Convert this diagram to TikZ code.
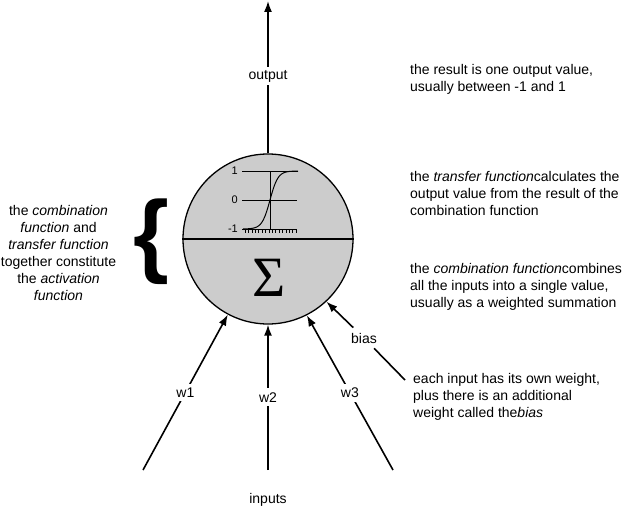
\documentclass[tikz,border=0pt]{standalone}
\usepackage{fontspec}
\setmainfont{Liberation Sans}
\newfontfamily\sigmafont{Liberation Serif}
\usetikzlibrary{arrows.meta,positioning}
\tikzstyle{neuron}=[draw,fill=black!20,circle,minimum size=170pt,inner sep=0pt,line width=1.3pt]
\tikzstyle{wire}=[line width=1.6pt,-{Latex[length=11pt,width=8pt]}]
\tikzstyle{tag}=[fill=white,inner sep=4pt]
\tikzstyle{note}=[align=left,anchor=north west,inner sep=0pt]
\tikzstyle{axis}=[line width=1pt]

\begin{document}
\begin{tikzpicture}[x=1pt,y=-1pt,font=\fontsize{14}{17}\selectfont]
\useasboundingbox (0,0) rectangle (626,508);
\node [neuron] (n) at (268,239) {};
\draw [line width=1.3pt] (n.west) -- (n.east);
\node [inner sep=0pt,font=\fontsize{57}{60}\sigmafont] (sum) at (269,278) {Σ};
\draw [axis] (242,171) -- (298,171) (242,200) -- (297,200) (242,229) -- (297,229) (270,171) -- (270,229);
\foreach \i in {0,...,15}
  \draw [line width=0.6pt] (245+3.4*\i,229) -- ++(0,3.5);
\draw [axis,domain=-27:28,samples=50] plot (270+\x,{200-29*tanh(\x/8)});
\node [anchor=east,inner sep=0pt,font=\fontsize{11}{11}\selectfont] (one) at (238,171) {1};
\node [anchor=east,inner sep=0pt,font=\fontsize{11}{11}\selectfont] (zero) at (238,200) {0};
\node [anchor=east,inner sep=0pt,font=\fontsize{11}{11}\selectfont] (minus) at (238,229) {-1};

\node [tag,inner sep=3pt] (out) at (268,76) {output};
\coordinate (top) at (268,1);
\draw [line width=1.6pt] (n) -- (out);
\draw [wire] (out) -- (top);

\coordinate (x1) at (143,470);
\coordinate (x2) at (268,470);
\coordinate (x3) at (393,470);
\draw [wire] (x1) -- node [tag] (w1) {w1} (n.242.3);
\draw [wire] (x2) -- node [tag] (w2) {w2} (n.270);
\draw [wire] (x3) -- node [tag] (w3) {w3} (n.297.7);
\node (inputs) at (268,500) {inputs};

\node [inner sep=5pt] (bias) at (364,338) {bias};
\coordinate (biasend) at (405,380);
\draw [wire] (bias) -- (n.313.6);
\draw [line width=1.6pt] (bias) -- (biasend);

\node [font=\fontsize{92}{92}\selectfont\bfseries,inner sep=0pt] (brace) at (151,242) {\{};
\node [align=center,anchor=north,inner sep=0pt] (act) at (58.5,205.5) {the \textit{combination}\\\textit{function} and\\\textit{transfer function}\\together constitute\\the \textit{activation}\\\textit{function}};

\node [note] (result) at (410,64.5) {the result is one output value,\\usually between -1 and 1};
\node [note] (transfer) at (410,171.5) {the \textit{transfer function}calculates the\\output value from the result of the\\combination function};
\node [note] (combine) at (410,263) {the \textit{combination function}combines\\all the inputs into a single value,\\usually as a weighted summation};
\node [note] (weights) at (413,373.5) {each input has its own weight,\\plus there is an additional\\weight called the\textit{bias}};
\end{tikzpicture}
\end{document}
